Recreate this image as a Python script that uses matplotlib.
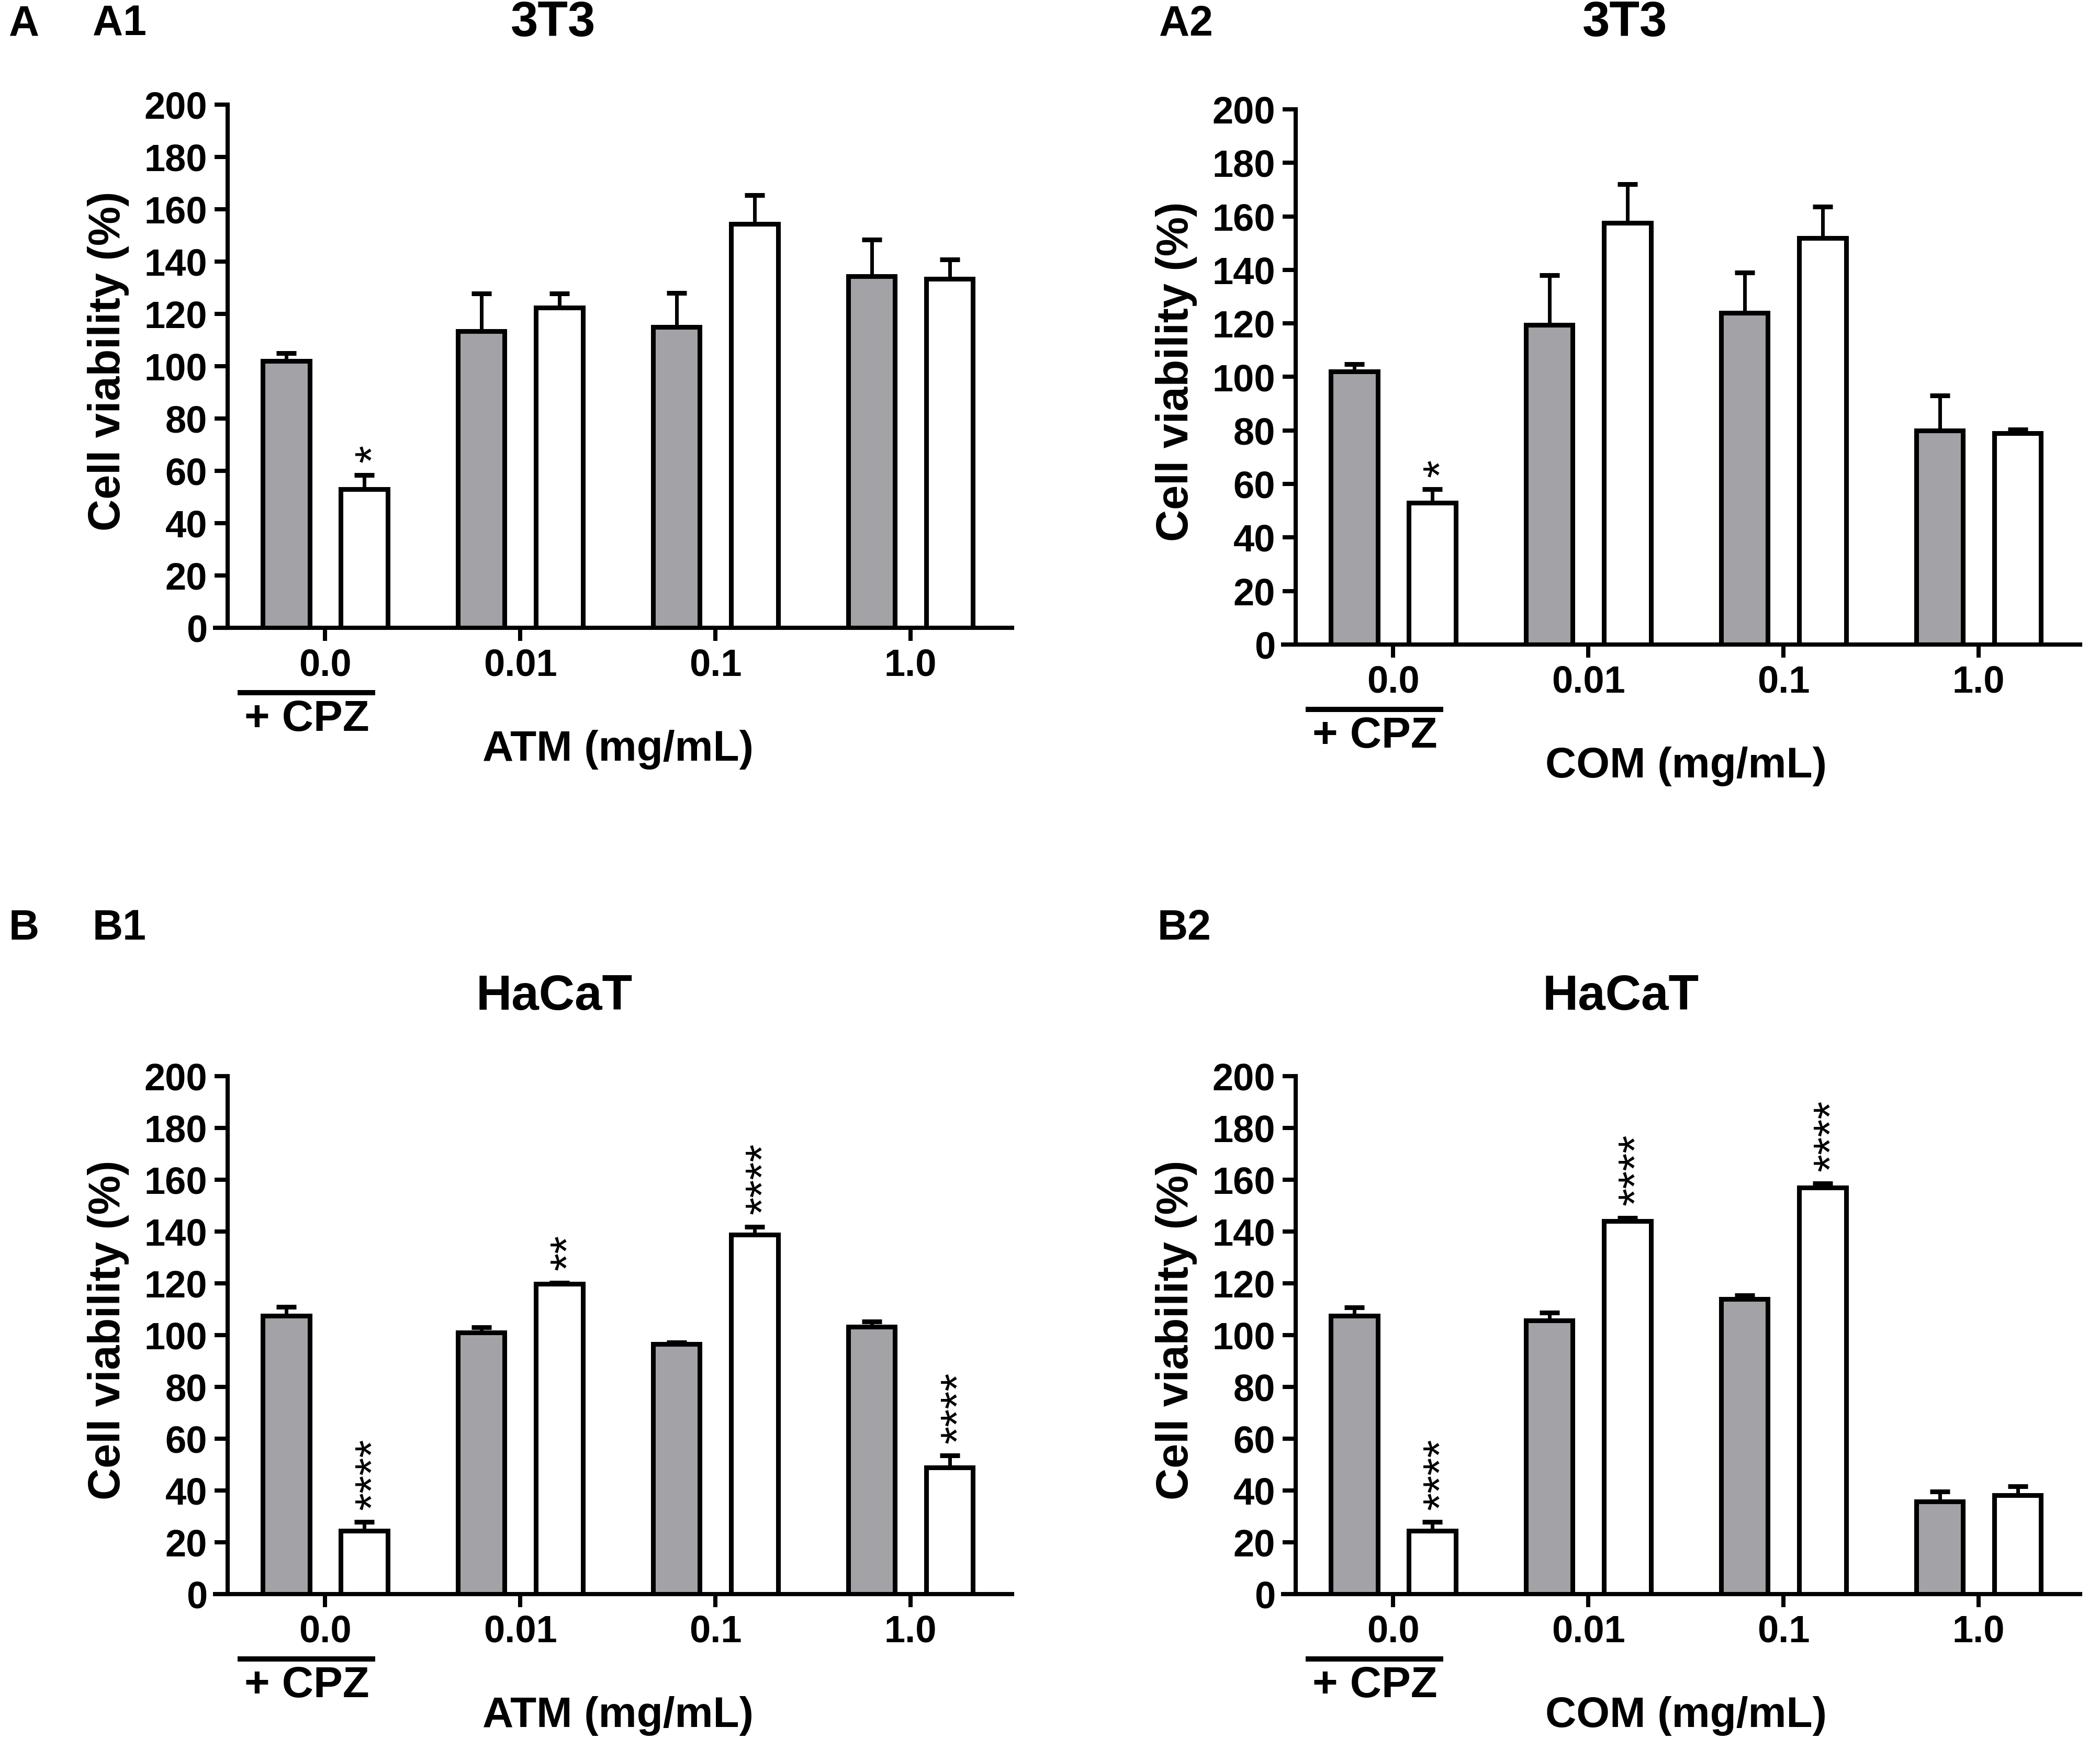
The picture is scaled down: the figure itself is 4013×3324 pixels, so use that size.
import matplotlib
matplotlib.use("Agg")
import matplotlib.pyplot as plt
import matplotlib.transforms as mtransforms
import numpy as np

plt.rcParams['font.family'] = ['Liberation Sans', 'DejaVu Sans']

# concentrations on the x axis
doses = ['0.0', '0.01', '0.1', '1.0']

# A1: 3T3, ATM
a1_gray = [102, 113.5, 115, 134.5]
a1_gray_err = [3, 14.3, 13, 14]
a1_white = [53, 122.5, 154.5, 133.5]
a1_white_err = [5.4, 5.3, 11, 7.4]
a1_stars = ['*', '', '', '']

# A2: 3T3, COM
a2_gray = [102, 119.5, 124, 80]
a2_gray_err = [2.8, 18.5, 15, 13]
a2_white = [53, 157.5, 152, 79]
a2_white_err = [5, 14.5, 11.7, 1.4]
a2_stars = ['*', '', '', '']

# B1: HaCaT, ATM
b1_gray = [107.5, 101, 96.6, 103.3]
b1_gray_err = [3.4, 2, 0.6, 2]
b1_white = [24.5, 119.8, 138.8, 48.8]
b1_white_err = [3.3, 0.4, 3, 4.7]
b1_stars = ['****', '**', '****', '****']

# B2: HaCaT, COM
b2_gray = [107.5, 105.6, 114, 35.8]
b2_gray_err = [3.3, 3, 1.4, 3.8]
b2_white = [24.5, 144, 157, 38.2]
b2_white_err = [3.3, 1.3, 1.5, 3.5]
b2_stars = ['****', '****', '****', '']

W, H = 4013, 3324
GRAY = '#a3a2a7'
AX_W = 1499  # axes width in px

fig = plt.figure(figsize=(W / 100, H / 100), dpi=100)

# left, top, bottom of each axes (px), title centre, panel tag centre
panels = [
    dict(box=(435, 200, 1200), gray=a1_gray, gerr=a1_gray_err, white=a1_white,
         werr=a1_white_err, stars=a1_stars, title='3T3', title_xy=(1057, 44),
         xlabel='ATM (mg/mL)', tags=[('A', 46, 46), ('A1', 228, 46)]),
    dict(box=(2476, 209, 1232), gray=a2_gray, gerr=a2_gray_err, white=a2_white,
         werr=a2_white_err, stars=a2_stars, title='3T3', title_xy=(3105, 44),
         xlabel='COM (mg/mL)', tags=[('A2', 2266, 46)]),
    dict(box=(435, 2057, 3047), gray=b1_gray, gerr=b1_gray_err, white=b1_white,
         werr=b1_white_err, stars=b1_stars, title='HaCaT', title_xy=(1059, 1905),
         xlabel='ATM (mg/mL)', tags=[('B', 46, 1775), ('B1', 228, 1775)]),
    dict(box=(2476, 2057, 3047), gray=b2_gray, gerr=b2_gray_err, white=b2_white,
         werr=b2_white_err, stars=b2_stars, title='HaCaT', title_xy=(3097, 1905),
         xlabel='COM (mg/mL)', tags=[('B2', 2263, 1775)]),
]

x = np.arange(len(doses))
off, bw = 0.2, 0.24
LW = 5.8

for p in panels:
    left, top, bottom = p['box']
    hpx = bottom - top
    ax = fig.add_axes([left / W, 1 - bottom / H, AX_W / W, hpx / H])

    zeros = np.zeros(len(doses))
    ax.errorbar(x - off, p['gray'], yerr=[zeros, p['gerr']], fmt='none', ecolor='black',
                elinewidth=5, capsize=14, capthick=6.5, zorder=1)
    ax.errorbar(x + off, p['white'], yerr=[zeros, p['werr']], fmt='none', ecolor='black',
                elinewidth=5, capsize=14, capthick=6.5, zorder=1)
    ax.bar(x - off, p['gray'], width=bw, color=GRAY, edgecolor='black', linewidth=6.5, zorder=2)
    ax.bar(x + off, p['white'], width=bw, color='white', edgecolor='black', linewidth=6.5, zorder=2)

    # significance stars, stacked vertically
    for xi, v, e, s in zip(x, p['white'], p['werr'], p['stars']):
        if s:
            ax.annotate(s, xy=(xi + off, v + e), xytext=(14, 17), textcoords='offset points',
                        rotation=90, ha='center', va='bottom', fontsize=63)

    ax.set_xlim(-0.5, 3.52)
    ax.set_ylim(0, 200)
    ax.set_yticks(np.arange(0, 201, 20))
    ax.set_xticks(x)
    ax.set_xticklabels(doses)
    for side in ['top', 'right']:
        ax.spines[side].set_visible(False)
    for side in ['left', 'bottom']:
        ax.spines[side].set_linewidth(LW)
    ax.tick_params(direction='out', length=18, width=LW, labelsize=52)
    ax.tick_params(axis='x', pad=10)
    ax.tick_params(axis='y', pad=10)
    for lab in ax.get_xticklabels() + ax.get_yticklabels():
        lab.set_fontweight('bold')

    # x axis runs a little past the y axis
    ax.plot([-0.5 - 28 / 373, -0.5], [0, 0], color='black', lw=LW, clip_on=False,
            solid_capstyle='butt')

    trans = mtransforms.blended_transform_factory(ax.transData, ax.transAxes)
    ax.plot([-0.45, 0.255], [-124 / hpx] * 2, transform=trans, color='black', lw=7.2,
            clip_on=False, solid_capstyle='butt')
    ax.text(-0.094, -175 / hpx, '+ CPZ', transform=trans, ha='center', va='center',
            fontsize=60, fontweight='bold')
    ax.text(1.5, -233 / hpx, p['xlabel'], transform=trans, ha='center', va='center',
            fontsize=59, fontweight='bold')

    fig.text((left - 228) / W, 1 - ((top + bottom) / 2 - 10) / H, 'Cell viability (%)',
             rotation=90, ha='center', va='center', fontsize=61, fontweight='bold')
    tx, ty = p['title_xy']
    fig.text(tx / W, 1 - ty / H, p['title'], ha='center', va='center', fontsize=68,
             fontweight='bold')
    for tag, lx, ly in p['tags']:
        fig.text(lx / W, 1 - ly / H, tag, ha='center', va='center', fontsize=58,
                 fontweight='bold')

fig.savefig('out.png', dpi=100)
